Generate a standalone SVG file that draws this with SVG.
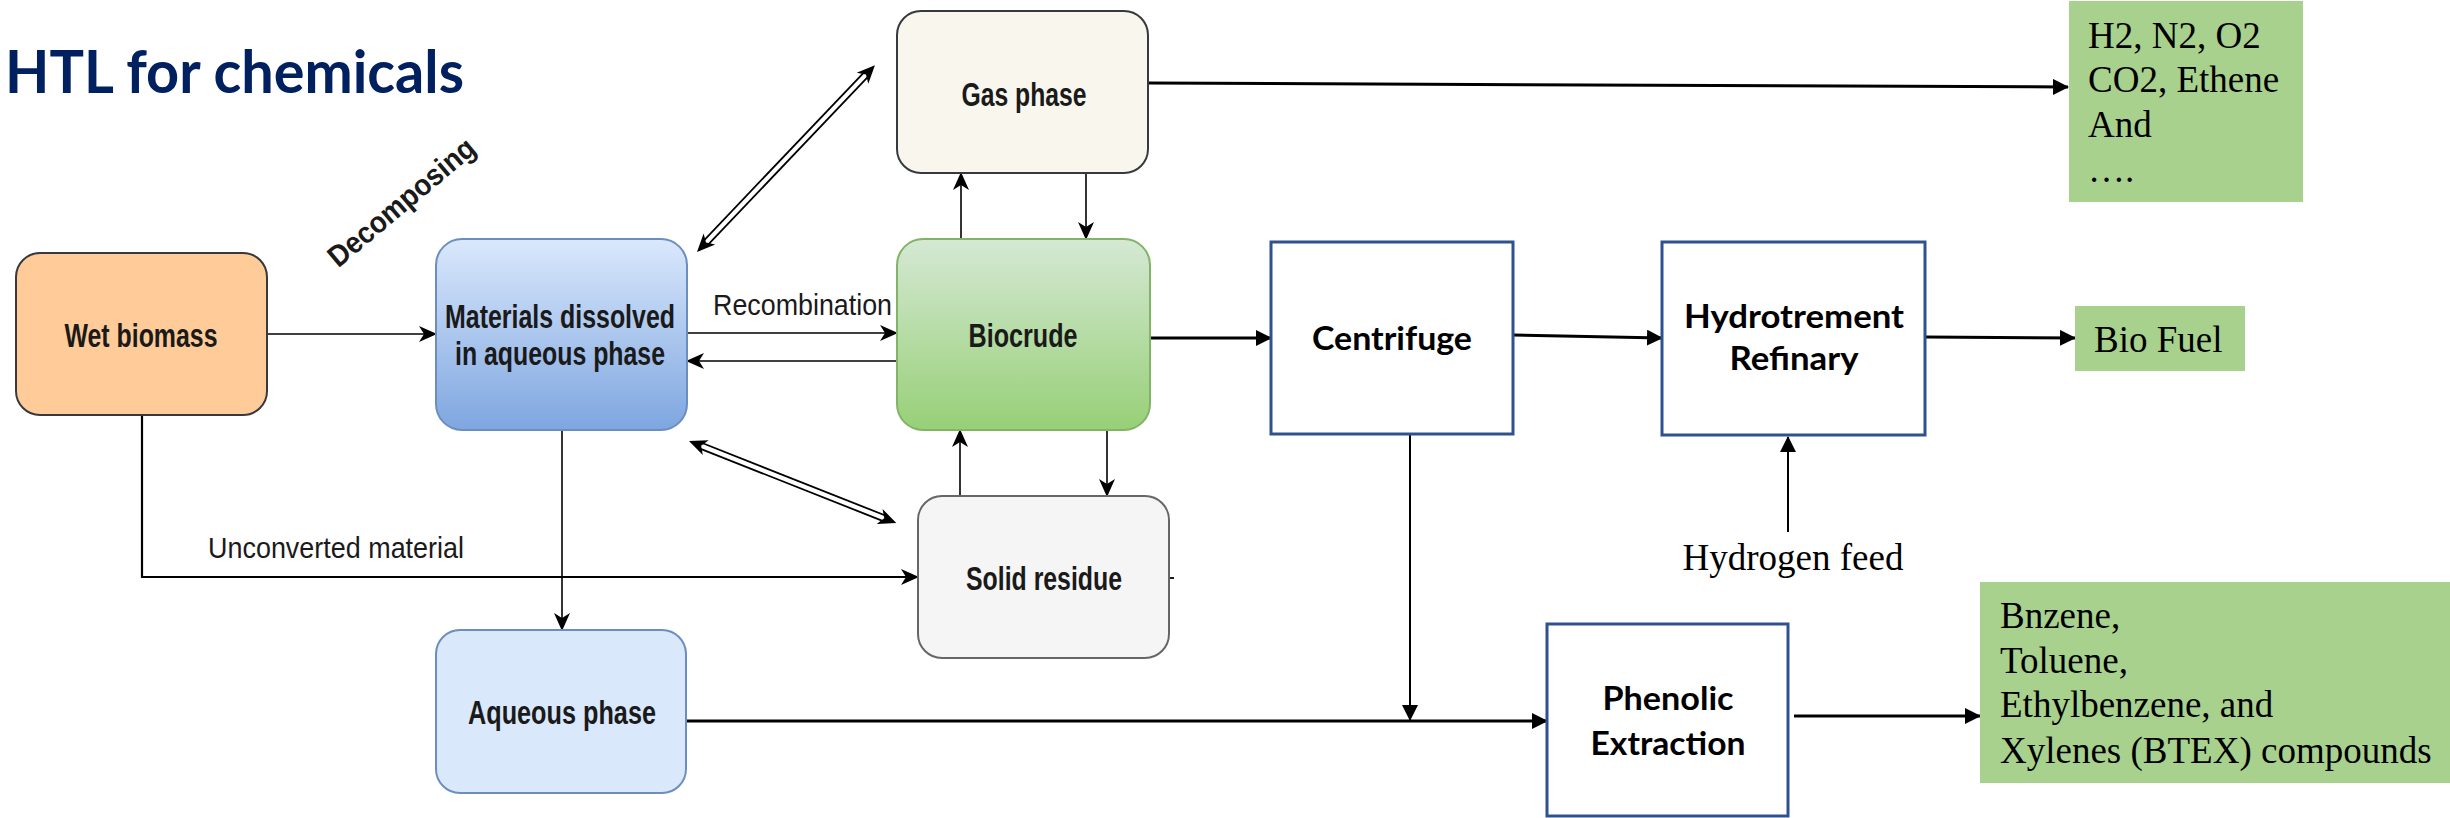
<svg xmlns="http://www.w3.org/2000/svg" width="2450" height="818" viewBox="0 0 2450 818">
<defs>
<linearGradient id="gBlue" x1="0" y1="0" x2="0" y2="1"><stop offset="0" stop-color="#dae8fc"/><stop offset="1" stop-color="#7ea6e0"/></linearGradient>
<linearGradient id="gGreen" x1="0" y1="0" x2="0" y2="1"><stop offset="0" stop-color="#d5e8d4"/><stop offset="1" stop-color="#97d077"/></linearGradient>
<marker id="cl" viewBox="0 0 18 16" refX="17" refY="8" markerWidth="18" markerHeight="16" markerUnits="userSpaceOnUse" orient="auto"><path d="M0,0 L18,8 L0,16 L5,8 Z" fill="#000"/></marker>
<marker id="tri" viewBox="0 0 16 16" refX="15" refY="8" markerWidth="16" markerHeight="16" markerUnits="userSpaceOnUse" orient="auto"><path d="M0,0 L16,8 L0,16 Z" fill="#000"/></marker>
<style>
.dl{font-family:"Liberation Sans",Arial,sans-serif;font-size:33px;font-weight:bold;fill:#1a1a1a;text-anchor:middle}
.lb{font-family:"Liberation Sans",Arial,sans-serif;font-size:30px;fill:#1a1a1a}
.cb{font-family:Lato,"Open Sans",sans-serif;font-size:33px;font-weight:bold;fill:#000;text-anchor:middle}
.tm{font-family:"Liberation Serif","Times New Roman",serif;font-size:37px;fill:#000}
.ln{fill:none;stroke:#000;stroke-width:1.8}
.lc{fill:none;stroke:#000;stroke-width:1.6;marker-end:url(#cl)}
.lt{fill:none;stroke:#000;stroke-width:3;marker-end:url(#tri)}
.lt2{fill:none;stroke:#000;stroke-width:2;marker-end:url(#tri)}
.pb{fill:#fff;stroke:#2f528f;stroke-width:3}
.gb{fill:#a9d18e}
</style>
</defs>
<rect width="2450" height="818" fill="#fff"/>
<text x="5" y="93" font-family="Lato,'Open Sans',sans-serif" font-size="59" font-weight="bold" fill="#002060" textLength="459" lengthAdjust="spacingAndGlyphs">HTL for chemicals</text>

<g id="connectors">
<line class="lc" x1="267" y1="334" x2="436" y2="334"/>
<line class="lc" x1="687" y1="333" x2="897" y2="333"/>
<line class="lc" x1="897" y1="361" x2="687" y2="361"/>
<line class="lc" x1="961" y1="239" x2="961" y2="173"/>
<line class="lc" x1="1086" y1="173" x2="1086" y2="239"/>
<line class="lc" x1="960" y1="496" x2="960" y2="430"/>
<line class="lc" x1="1107" y1="430" x2="1107" y2="496"/>
<line class="lc" x1="562" y1="430" x2="562" y2="630"/>
<polyline class="lc" points="142,415 142,577 918,577" style="stroke-width:2.2"/>
<line class="ln" x1="1169" y1="578" x2="1174" y2="578"/>
<g transform="translate(697,252) rotate(-46.4)">
<line class="ln" x1="13" y1="-3" x2="245" y2="-3"/>
<line class="ln" x1="13" y1="3" x2="245" y2="3"/>
<path d="M0,0 L18,-8 L13,0 L18,8 Z M258,0 L240,-8 L245,0 L240,8 Z" fill="#000"/>
</g>
<g transform="translate(689,441) rotate(21.6)">
<line class="ln" x1="13" y1="-3" x2="210" y2="-3"/>
<line class="ln" x1="13" y1="3" x2="210" y2="3"/>
<path d="M0,0 L18,-8 L13,0 L18,8 Z M223,0 L205,-8 L210,0 L205,8 Z" fill="#000"/>
</g>
<text x="208" y="558" class="lb" textLength="256" lengthAdjust="spacingAndGlyphs">Unconverted material</text>
<text x="713" y="315" class="lb" textLength="179" lengthAdjust="spacingAndGlyphs">Recombination</text>
<text x="408" y="210" class="lb" text-anchor="middle" font-size="29" font-weight="bold" transform="rotate(-40 408 210)" textLength="182" lengthAdjust="spacingAndGlyphs">Decomposing</text>
<line class="lt" x1="1148" y1="83" x2="2068" y2="87"/>
<line class="lt" x1="1150" y1="338" x2="1271" y2="338"/>
<line class="lt" x1="1513" y1="335" x2="1662" y2="338"/>
<line class="lt" x1="1925" y1="337" x2="2075" y2="338"/>
<line class="lt2" x1="1788" y1="532" x2="1788" y2="437"/>
<line class="lt2" x1="1410" y1="428" x2="1410" y2="720"/>
<line class="lt" x1="686" y1="721" x2="1547" y2="721"/>
<line class="lt" x1="1794" y1="716" x2="1980" y2="716"/>
<text x="1793" y="570" class="tm" text-anchor="middle">Hydrogen feed</text>
</g>

<g id="wet-biomass">
<rect x="16" y="253" width="251" height="162" rx="24" fill="#ffcc99" stroke="#36393d" stroke-width="2"/>
<text x="141" y="347" class="dl" textLength="153" lengthAdjust="spacingAndGlyphs">Wet biomass</text>
</g>
<g id="materials-dissolved">
<rect x="436" y="239" width="251" height="191" rx="26" fill="url(#gBlue)" stroke="#6c8ebf" stroke-width="2"/>
<text x="560" y="328" class="dl" textLength="230" lengthAdjust="spacingAndGlyphs">Materials dissolved</text>
<text x="560" y="365" class="dl" textLength="210" lengthAdjust="spacingAndGlyphs">in aqueous phase</text>
</g>
<g id="gas-phase">
<rect x="897" y="11" width="251" height="162" rx="24" fill="#f9f7ed" stroke="#36393d" stroke-width="2"/>
<text x="1024" y="106" class="dl" textLength="125" lengthAdjust="spacingAndGlyphs">Gas phase</text>
</g>
<g id="biocrude">
<rect x="897" y="239" width="253" height="191" rx="26" fill="url(#gGreen)" stroke="#82b366" stroke-width="2"/>
<text x="1023" y="347" class="dl" textLength="109" lengthAdjust="spacingAndGlyphs">Biocrude</text>
</g>
<g id="solid-residue">
<rect x="918" y="496" width="251" height="162" rx="24" fill="#f5f5f5" stroke="#666666" stroke-width="2"/>
<text x="1044" y="590" class="dl" textLength="156" lengthAdjust="spacingAndGlyphs">Solid residue</text>
</g>
<g id="aqueous-phase">
<rect x="436" y="630" width="250" height="163" rx="24" fill="#dae8fc" stroke="#6c8ebf" stroke-width="2"/>
<text x="562" y="724" class="dl" textLength="188" lengthAdjust="spacingAndGlyphs">Aqueous phase</text>
</g>
<g id="centrifuge">
<rect x="1271" y="242" width="242" height="192" class="pb"/>
<text x="1392" y="350" class="cb" textLength="160" lengthAdjust="spacingAndGlyphs">Centrifuge</text>
</g>
<g id="hydrotrement-refinary">
<rect x="1662" y="242" width="263" height="193" class="pb"/>
<text x="1794" y="328" class="cb" textLength="220" lengthAdjust="spacingAndGlyphs">Hydrotrement</text>
<text x="1794" y="370" class="cb" textLength="129" lengthAdjust="spacingAndGlyphs">Refinary</text>
</g>
<g id="phenolic-extraction">
<rect x="1547" y="624" width="241" height="192" class="pb"/>
<text x="1668" y="710" class="cb" textLength="131" lengthAdjust="spacingAndGlyphs">Phenolic</text>
<text x="1668" y="755" class="cb" textLength="155" lengthAdjust="spacingAndGlyphs">Extraction</text>
</g>
<g id="gases">
<rect x="2069" y="1" width="234" height="201" class="gb"/>
<text x="2088" y="48" class="tm">H2, N2, O2</text>
<text x="2088" y="92" class="tm">CO2, Ethene</text>
<text x="2088" y="137" class="tm">And</text>
<text x="2088" y="182" class="tm">….</text>
</g>
<g id="bio-fuel">
<rect x="2075" y="306" width="170" height="65" class="gb"/>
<text x="2094" y="352" class="tm">Bio Fuel</text>
</g>
<g id="btex">
<rect x="1980" y="582" width="470" height="201" class="gb"/>
<text x="2000" y="628" class="tm">Bnzene,</text>
<text x="2000" y="673" class="tm">Toluene,</text>
<text x="2000" y="717" class="tm">Ethylbenzene, and</text>
<text x="2000" y="763" class="tm">Xylenes (BTEX) compounds</text>
</g>
</svg>
